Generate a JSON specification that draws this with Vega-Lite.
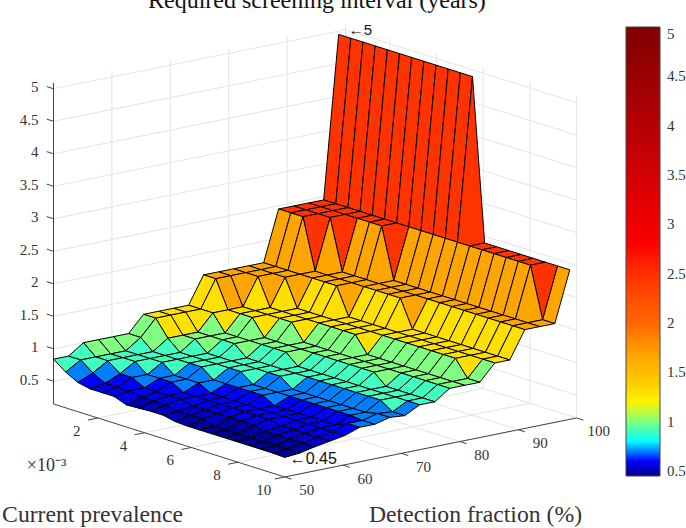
{"$schema":"https://vega.github.io/schema/vega-lite/v6.json","width":686,"height":528,"padding":0,"autosize":{"type":"none"},"background":"white","config":{"view":{"stroke":null},"font":"Liberation Serif"},
"title":{"text":"Required screening interval (years)","font":"Liberation Serif","fontSize":24,"fontWeight":"normal","color":"#111111","anchor":"start","dx":148,"offset":-32,"baseline":"alphabetic"},
"datasets":{
"grid":[
{"id":1900,"z":4.95},{"id":1901,"z":4.95},{"id":1902,"z":4.95},{"id":1903,"z":4.95},{"id":1904,"z":4.95},{"id":1905,"z":4.95},{"id":1906,"z":4.95},{"id":1907,"z":4.95},{"id":1908,"z":4.95},{"id":1909,"z":4.95},{"id":1910,"z":4.95},{"id":1911,"z":4.95},{"id":1912,"z":2.45},{"id":1913,"z":2.45},{"id":1914,"z":2.45},{"id":1915,"z":2.45},{"id":1916,"z":2.45},{"id":1917,"z":2.45},{"id":1918,"z":2.45},{"id":1919,"z":2.45},
{"id":1800,"z":2.45},{"id":1801,"z":2.45},{"id":1802,"z":2.45},{"id":1803,"z":2.45},{"id":1804,"z":2.45},{"id":1805,"z":2.45},{"id":1806,"z":2.45},{"id":1807,"z":2.45},{"id":1808,"z":2.45},{"id":1809,"z":2.45},{"id":1810,"z":2.45},{"id":1811,"z":2.45},{"id":1812,"z":2.45},{"id":1813,"z":2.45},{"id":1814,"z":2.45},{"id":1815,"z":2.45},{"id":1816,"z":2.45},{"id":1817,"z":2.45},{"id":1818,"z":1.67},{"id":1819,"z":1.67},
{"id":1700,"z":2.45},{"id":1701,"z":2.45},{"id":1702,"z":2.45},{"id":1703,"z":2.45},{"id":1704,"z":2.45},{"id":1705,"z":2.45},{"id":1706,"z":2.45},{"id":1707,"z":1.67},{"id":1708,"z":1.67},{"id":1709,"z":1.67},{"id":1710,"z":1.67},{"id":1711,"z":1.67},{"id":1712,"z":1.67},{"id":1713,"z":1.67},{"id":1714,"z":1.67},{"id":1715,"z":1.67},{"id":1716,"z":1.67},{"id":1717,"z":1.67},{"id":1718,"z":1.67},{"id":1719,"z":1.67},
{"id":1600,"z":2.45},{"id":1601,"z":2.45},{"id":1602,"z":2.45},{"id":1603,"z":2.45},{"id":1604,"z":1.67},{"id":1605,"z":1.67},{"id":1606,"z":1.67},{"id":1607,"z":1.67},{"id":1608,"z":1.67},{"id":1609,"z":1.67},{"id":1610,"z":1.67},{"id":1611,"z":1.67},{"id":1612,"z":1.67},{"id":1613,"z":1.67},{"id":1614,"z":1.67},{"id":1615,"z":1.67},{"id":1616,"z":1.67},{"id":1617,"z":1.67},{"id":1618,"z":1.67},{"id":1619,"z":1.67},
{"id":1500,"z":2.45},{"id":1501,"z":2.45},{"id":1502,"z":2.45},{"id":1503,"z":1.67},{"id":1504,"z":1.67},{"id":1505,"z":1.67},{"id":1506,"z":1.67},{"id":1507,"z":1.67},{"id":1508,"z":1.67},{"id":1509,"z":1.67},{"id":1510,"z":1.67},{"id":1511,"z":1.25},{"id":1512,"z":1.25},{"id":1513,"z":1.25},{"id":1514,"z":1.25},{"id":1515,"z":1.25},{"id":1516,"z":1.25},{"id":1517,"z":1.25},{"id":1518,"z":1.25},{"id":1519,"z":1.25},
{"id":1400,"z":1.67},{"id":1401,"z":1.67},{"id":1402,"z":1.67},{"id":1403,"z":1.67},{"id":1404,"z":1.67},{"id":1405,"z":1.67},{"id":1406,"z":1.67},{"id":1407,"z":1.25},{"id":1408,"z":1.25},{"id":1409,"z":1.25},{"id":1410,"z":1.25},{"id":1411,"z":1.25},{"id":1412,"z":1.25},{"id":1413,"z":1.25},{"id":1414,"z":1.25},{"id":1415,"z":1.25},{"id":1416,"z":1.25},{"id":1417,"z":1.25},{"id":1418,"z":1.25},{"id":1419,"z":1.25},
{"id":1300,"z":1.67},{"id":1301,"z":1.67},{"id":1302,"z":1.67},{"id":1303,"z":1.67},{"id":1304,"z":1.25},{"id":1305,"z":1.25},{"id":1306,"z":1.25},{"id":1307,"z":1.25},{"id":1308,"z":1.25},{"id":1309,"z":1.25},{"id":1310,"z":1.25},{"id":1311,"z":1.25},{"id":1312,"z":1.25},{"id":1313,"z":1.25},{"id":1314,"z":1.25},{"id":1315,"z":1.25},{"id":1316,"z":1.25},{"id":1317,"z":1.25},{"id":1318,"z":1},{"id":1319,"z":1},
{"id":1200,"z":1.67},{"id":1201,"z":1.67},{"id":1202,"z":1.67},{"id":1203,"z":1.25},{"id":1204,"z":1.25},{"id":1205,"z":1.25},{"id":1206,"z":1.25},{"id":1207,"z":1.25},{"id":1208,"z":1.25},{"id":1209,"z":1.25},{"id":1210,"z":1.25},{"id":1211,"z":1},{"id":1212,"z":1},{"id":1213,"z":1},{"id":1214,"z":1},{"id":1215,"z":1},{"id":1216,"z":1},{"id":1217,"z":1},{"id":1218,"z":1},{"id":1219,"z":1},
{"id":1100,"z":1.67},{"id":1101,"z":1.67},{"id":1102,"z":1.25},{"id":1103,"z":1.25},{"id":1104,"z":1.25},{"id":1105,"z":1.25},{"id":1106,"z":1.25},{"id":1107,"z":1},{"id":1108,"z":1},{"id":1109,"z":1},{"id":1110,"z":1},{"id":1111,"z":1},{"id":1112,"z":1},{"id":1113,"z":1},{"id":1114,"z":1},{"id":1115,"z":1},{"id":1116,"z":1},{"id":1117,"z":1},{"id":1118,"z":1},{"id":1119,"z":1},
{"id":1000,"z":1.67},{"id":1001,"z":1.67},{"id":1002,"z":1.25},{"id":1003,"z":1.25},{"id":1004,"z":1.25},{"id":1005,"z":1},{"id":1006,"z":1},{"id":1007,"z":1},{"id":1008,"z":1},{"id":1009,"z":1},{"id":1010,"z":1},{"id":1011,"z":1},{"id":1012,"z":1},{"id":1013,"z":1},{"id":1014,"z":1},{"id":1015,"z":0.84},{"id":1016,"z":0.84},{"id":1017,"z":0.84},{"id":1018,"z":0.84},{"id":1019,"z":0.84},
{"id":900,"z":1.25},{"id":901,"z":1.25},{"id":902,"z":1.25},{"id":903,"z":1},{"id":904,"z":1},{"id":905,"z":1},{"id":906,"z":1},{"id":907,"z":1},{"id":908,"z":1},{"id":909,"z":0.84},{"id":910,"z":0.84},{"id":911,"z":0.84},{"id":912,"z":0.84},{"id":913,"z":0.84},{"id":914,"z":0.84},{"id":915,"z":0.84},{"id":916,"z":0.84},{"id":917,"z":0.84},{"id":918,"z":0.84},{"id":919,"z":0.84},
{"id":800,"z":1.25},{"id":801,"z":1.25},{"id":802,"z":1},{"id":803,"z":1},{"id":804,"z":1},{"id":805,"z":1},{"id":806,"z":0.84},{"id":807,"z":0.84},{"id":808,"z":0.84},{"id":809,"z":0.84},{"id":810,"z":0.84},{"id":811,"z":0.84},{"id":812,"z":0.84},{"id":813,"z":0.84},{"id":814,"z":0.84},{"id":815,"z":0.84},{"id":816,"z":0.84},{"id":817,"z":0.84},{"id":818,"z":0.72},{"id":819,"z":0.72},
{"id":700,"z":1.25},{"id":701,"z":1.25},{"id":702,"z":1},{"id":703,"z":1},{"id":704,"z":0.84},{"id":705,"z":0.84},{"id":706,"z":0.84},{"id":707,"z":0.84},{"id":708,"z":0.84},{"id":709,"z":0.84},{"id":710,"z":0.84},{"id":711,"z":0.7},{"id":712,"z":0.7},{"id":713,"z":0.7},{"id":714,"z":0.7},{"id":715,"z":0.7},{"id":716,"z":0.7},{"id":717,"z":0.7},{"id":718,"z":0.74},{"id":719,"z":0.74},
{"id":600,"z":1.25},{"id":601,"z":1.25},{"id":602,"z":1},{"id":603,"z":0.84},{"id":604,"z":0.84},{"id":605,"z":0.84},{"id":606,"z":0.84},{"id":607,"z":0.84},{"id":608,"z":0.84},{"id":609,"z":0.7},{"id":610,"z":0.7},{"id":611,"z":0.7},{"id":612,"z":0.7},{"id":613,"z":0.7},{"id":614,"z":0.7},{"id":615,"z":0.7},{"id":616,"z":0.7},{"id":617,"z":0.7},{"id":618,"z":0.68},{"id":619,"z":0.68},
{"id":500,"z":1},{"id":501,"z":1},{"id":502,"z":0.84},{"id":503,"z":0.84},{"id":504,"z":0.84},{"id":505,"z":0.84},{"id":506,"z":0.84},{"id":507,"z":0.7},{"id":508,"z":0.7},{"id":509,"z":0.7},{"id":510,"z":0.7},{"id":511,"z":0.7},{"id":512,"z":0.6},{"id":513,"z":0.6},{"id":514,"z":0.6},{"id":515,"z":0.6},{"id":516,"z":0.6},{"id":517,"z":0.6},{"id":518,"z":0.68},{"id":519,"z":0.68},
{"id":400,"z":1},{"id":401,"z":0.84},{"id":402,"z":0.84},{"id":403,"z":0.84},{"id":404,"z":0.84},{"id":405,"z":0.7},{"id":406,"z":0.7},{"id":407,"z":0.7},{"id":408,"z":0.6},{"id":409,"z":0.6},{"id":410,"z":0.6},{"id":411,"z":0.6},{"id":412,"z":0.6},{"id":413,"z":0.6},{"id":414,"z":0.6},{"id":415,"z":0.6},{"id":416,"z":0.6},{"id":417,"z":0.6},{"id":418,"z":0.6},{"id":419,"z":0.6},
{"id":300,"z":1},{"id":301,"z":0.84},{"id":302,"z":0.84},{"id":303,"z":0.84},{"id":304,"z":0.7},{"id":305,"z":0.7},{"id":306,"z":0.7},{"id":307,"z":0.6},{"id":308,"z":0.6},{"id":309,"z":0.6},{"id":310,"z":0.6},{"id":311,"z":0.6},{"id":312,"z":0.6},{"id":313,"z":0.6},{"id":314,"z":0.6},{"id":315,"z":0.56},{"id":316,"z":0.56},{"id":317,"z":0.56},{"id":318,"z":0.56},{"id":319,"z":0.56},
{"id":200,"z":1},{"id":201,"z":0.84},{"id":202,"z":0.84},{"id":203,"z":0.7},{"id":204,"z":0.7},{"id":205,"z":0.6},{"id":206,"z":0.6},{"id":207,"z":0.6},{"id":208,"z":0.6},{"id":209,"z":0.56},{"id":210,"z":0.56},{"id":211,"z":0.56},{"id":212,"z":0.56},{"id":213,"z":0.56},{"id":214,"z":0.56},{"id":215,"z":0.52},{"id":216,"z":0.52},{"id":217,"z":0.52},{"id":218,"z":0.52},{"id":219,"z":0.52},
{"id":100,"z":0.84},{"id":101,"z":0.84},{"id":102,"z":0.7},{"id":103,"z":0.6},{"id":104,"z":0.6},{"id":105,"z":0.6},{"id":106,"z":0.56},{"id":107,"z":0.56},{"id":108,"z":0.56},{"id":109,"z":0.52},{"id":110,"z":0.52},{"id":111,"z":0.52},{"id":112,"z":0.47},{"id":113,"z":0.47},{"id":114,"z":0.47},{"id":115,"z":0.47},{"id":116,"z":0.47},{"id":117,"z":0.47},{"id":118,"z":0.47},{"id":119,"z":0.47},
{"id":0,"z":0.84},{"id":1,"z":0.7},{"id":2,"z":0.6},{"id":3,"z":0.56},{"id":4,"z":0.56},{"id":5,"z":0.56},{"id":6,"z":0.49},{"id":7,"z":0.5},{"id":8,"z":0.51},{"id":9,"z":0.51},{"id":10,"z":0.47},{"id":11,"z":0.46},{"id":12,"z":0.46},{"id":13,"z":0.46},{"id":14,"z":0.46},{"id":15,"z":0.46},{"id":16,"z":0.46},{"id":17,"z":0.46},{"id":18,"z":0.46},{"id":19,"z":0.45}
],
"walls":[
{"seg":1,"det":[60,60],"prev":[0.1,0.1],"z":[0.15,5.09]},{"seg":2,"det":[70,70],"prev":[0.1,0.1],"z":[0.15,5.09]},{"seg":3,"det":[80,80],"prev":[0.1,0.1],"z":[0.15,5.09]},{"seg":4,"det":[90,90],"prev":[0.1,0.1],"z":[0.15,5.09]},{"seg":5,"det":[100,100],"prev":[0.1,0.1],"z":[0.15,5.09]},
{"seg":6,"det":[50,100],"prev":[0.1,0.1],"z":[0.5,0.5]},{"seg":7,"det":[50,100],"prev":[0.1,0.1],"z":[1,1]},{"seg":8,"det":[50,100],"prev":[0.1,0.1],"z":[1.5,1.5]},{"seg":9,"det":[50,100],"prev":[0.1,0.1],"z":[2,2]},{"seg":10,"det":[50,100],"prev":[0.1,0.1],"z":[2.5,2.5]},{"seg":11,"det":[50,100],"prev":[0.1,0.1],"z":[3,3]},{"seg":12,"det":[50,100],"prev":[0.1,0.1],"z":[3.5,3.5]},{"seg":13,"det":[50,100],"prev":[0.1,0.1],"z":[4,4]},{"seg":14,"det":[50,100],"prev":[0.1,0.1],"z":[4.5,4.5]},{"seg":15,"det":[50,100],"prev":[0.1,0.1],"z":[5,5]},
{"seg":16,"det":[100,100],"prev":[2,2],"z":[0.15,5.09]},{"seg":17,"det":[100,100],"prev":[4,4],"z":[0.15,5.09]},{"seg":18,"det":[100,100],"prev":[6,6],"z":[0.15,5.09]},{"seg":19,"det":[100,100],"prev":[8,8],"z":[0.15,5.09]},{"seg":20,"det":[100,100],"prev":[10,10],"z":[0.15,5.09]},
{"seg":21,"det":[100,100],"prev":[0.1,10],"z":[0.5,0.5]},{"seg":22,"det":[100,100],"prev":[0.1,10],"z":[1,1]},{"seg":23,"det":[100,100],"prev":[0.1,10],"z":[1.5,1.5]},{"seg":24,"det":[100,100],"prev":[0.1,10],"z":[2,2]},{"seg":25,"det":[100,100],"prev":[0.1,10],"z":[2.5,2.5]},{"seg":26,"det":[100,100],"prev":[0.1,10],"z":[3,3]},{"seg":27,"det":[100,100],"prev":[0.1,10],"z":[3.5,3.5]},{"seg":28,"det":[100,100],"prev":[0.1,10],"z":[4,4]},{"seg":29,"det":[100,100],"prev":[0.1,10],"z":[4.5,4.5]},{"seg":30,"det":[100,100],"prev":[0.1,10],"z":[5,5]},
{"seg":31,"det":[60,60],"prev":[0.1,10],"z":[0.15,0.15]},{"seg":32,"det":[70,70],"prev":[0.1,10],"z":[0.15,0.15]},{"seg":33,"det":[80,80],"prev":[0.1,10],"z":[0.15,0.15]},{"seg":34,"det":[90,90],"prev":[0.1,10],"z":[0.15,0.15]},{"seg":35,"det":[100,100],"prev":[0.1,10],"z":[0.15,0.15]},
{"seg":36,"det":[50,100],"prev":[2,2],"z":[0.15,0.15]},{"seg":37,"det":[50,100],"prev":[4,4],"z":[0.15,0.15]},{"seg":38,"det":[50,100],"prev":[6,6],"z":[0.15,0.15]},{"seg":39,"det":[50,100],"prev":[8,8],"z":[0.15,0.15]},{"seg":40,"det":[50,100],"prev":[10,10],"z":[0.15,0.15]}
],
"axes":[
{"seg":1,"det":[50,50],"prev":[0.1,0.1],"z":[0.15,5.09]},{"seg":2,"det":[50,50],"prev":[0.1,10],"z":[0.15,0.15]},{"seg":3,"det":[50,100],"prev":[10,10],"z":[0.15,0.15]},
{"seg":4,"det":[50,50],"prev":[0.1,-0.19],"z":[0.5,0.5]},{"seg":5,"det":[50,50],"prev":[0.1,-0.19],"z":[1,1]},{"seg":6,"det":[50,50],"prev":[0.1,-0.19],"z":[1.5,1.5]},{"seg":7,"det":[50,50],"prev":[0.1,-0.19],"z":[2,2]},{"seg":8,"det":[50,50],"prev":[0.1,-0.19],"z":[2.5,2.5]},{"seg":9,"det":[50,50],"prev":[0.1,-0.19],"z":[3,3]},{"seg":10,"det":[50,50],"prev":[0.1,-0.19],"z":[3.5,3.5]},{"seg":11,"det":[50,50],"prev":[0.1,-0.19],"z":[4,4]},{"seg":12,"det":[50,50],"prev":[0.1,-0.19],"z":[4.5,4.5]},{"seg":13,"det":[50,50],"prev":[0.1,-0.19],"z":[5,5]},
{"seg":14,"det":[50,48.3],"prev":[2,2],"z":[0.15,0.15]},{"seg":15,"det":[50,48.3],"prev":[4,4],"z":[0.15,0.15]},{"seg":16,"det":[50,48.3],"prev":[6,6],"z":[0.15,0.15]},{"seg":17,"det":[50,48.3],"prev":[8,8],"z":[0.15,0.15]},{"seg":18,"det":[50,48.3],"prev":[10,10],"z":[0.15,0.15]},
{"seg":19,"det":[50,50],"prev":[10,10.29],"z":[0.15,0.15]},{"seg":20,"det":[60,60],"prev":[10,10.29],"z":[0.15,0.15]},{"seg":21,"det":[70,70],"prev":[10,10.29],"z":[0.15,0.15]},{"seg":22,"det":[80,80],"prev":[10,10.29],"z":[0.15,0.15]},{"seg":23,"det":[90,90],"prev":[10,10.29],"z":[0.15,0.15]},{"seg":24,"det":[100,100],"prev":[10,10.29],"z":[0.15,0.15]}
],
"labels":[
{"kind":"z","det":50,"prev":0.1,"z":0.5,"label":"0.5"},{"kind":"z","det":50,"prev":0.1,"z":1,"label":"1"},{"kind":"z","det":50,"prev":0.1,"z":1.5,"label":"1.5"},{"kind":"z","det":50,"prev":0.1,"z":2,"label":"2"},{"kind":"z","det":50,"prev":0.1,"z":2.5,"label":"2.5"},{"kind":"z","det":50,"prev":0.1,"z":3,"label":"3"},{"kind":"z","det":50,"prev":0.1,"z":3.5,"label":"3.5"},{"kind":"z","det":50,"prev":0.1,"z":4,"label":"4"},{"kind":"z","det":50,"prev":0.1,"z":4.5,"label":"4.5"},{"kind":"z","det":50,"prev":0.1,"z":5,"label":"5"},
{"kind":"p","det":50,"prev":2,"z":0.15,"label":"2"},{"kind":"p","det":50,"prev":4,"z":0.15,"label":"4"},{"kind":"p","det":50,"prev":6,"z":0.15,"label":"6"},{"kind":"p","det":50,"prev":8,"z":0.15,"label":"8"},{"kind":"p","det":50,"prev":10,"z":0.15,"label":"10"},
{"kind":"d","det":50,"prev":10,"z":0.15,"label":"50"},{"kind":"d","det":60,"prev":10,"z":0.15,"label":"60"},{"kind":"d","det":70,"prev":10,"z":0.15,"label":"70"},{"kind":"d","det":80,"prev":10,"z":0.15,"label":"80"},{"kind":"d","det":90,"prev":10,"z":0.15,"label":"90"},{"kind":"d","det":100,"prev":10,"z":0.15,"label":"100"},
{"kind":"a1","det":98.83,"prev":0.1,"z":4.95,"label":"←5"},{"kind":"a2","det":50,"prev":10,"z":0.45,"label":"←0.45"},
{"kind":"e","det":50,"prev":2,"z":0.15,"label":"×10⁻³"}
]},
"encoding":{
"x":{"field":"sx","type":"quantitative","scale":{"domain":[0,686],"nice":false,"zero":false},"axis":{"domain":false,"ticks":false,"labels":false,"grid":false,"title":"Detection fraction (%)","titleFont":"Liberation Serif","titleFontSize":23.7,"titleFontWeight":"normal","titleColor":"#333333","titleX":475,"titleY":-7,"titleBaseline":"alphabetic"}},
"y":{"field":"sy","type":"quantitative","scale":{"domain":[528,0],"nice":false,"zero":false},"axis":{"domain":false,"ticks":false,"labels":false,"grid":false,"title":"Current prevalence","titleAngle":0,"titleFont":"Liberation Serif","titleFontSize":23.7,"titleFontWeight":"normal","titleColor":"#333333","titleX":92,"titleY":521,"titleBaseline":"alphabetic","titleAlign":"center"}}
},
"layer":[
{"data":{"name":"walls"},"transform":[{"flatten":["det","prev","z"]},{"calculate":"53.5+5.84*(datum.det-50)+23.35*(datum.prev-0.1)","as":"sx"},{"calculate":"404-1.18*(datum.det-50)+7.37*(datum.prev-0.1)-65*(datum.z-0.15)","as":"sy"}],"mark":{"type":"line","stroke":"#e4e4e4","strokeWidth":1},"encoding":{"detail":{"field":"seg","type":"nominal"}}},
{"data":{"name":"axes"},"transform":[{"flatten":["det","prev","z"]},{"calculate":"53.5+5.84*(datum.det-50)+23.35*(datum.prev-0.1)","as":"sx"},{"calculate":"404-1.18*(datum.det-50)+7.37*(datum.prev-0.1)-65*(datum.z-0.15)","as":"sy"}],"mark":{"type":"line","stroke":"#444444","strokeWidth":1},"encoding":{"detail":{"field":"seg","type":"nominal"}}},
{"data":{"name":"grid"},"transform":[
{"calculate":"floor(datum.id/100)","as":"i"},{"calculate":"datum.id%100","as":"j"},{"filter":"datum.i<19 && datum.j<19"},
{"calculate":"[0,1,2,3,4]","as":"c"},{"flatten":["c"]},
{"calculate":"datum.i+[0,1,1,0,0][datum.c]","as":"vi"},{"calculate":"datum.j+[0,0,1,1,0][datum.c]","as":"vj"},{"calculate":"datum.vi*100+datum.vj","as":"vid"},
{"lookup":"vid","from":{"data":{"name":"grid"},"key":"id","fields":["z"]},"as":["vz"]},
{"calculate":"50+2.57*datum.vi","as":"det"},{"calculate":"0.1+0.521*datum.vj","as":"prev"},
{"calculate":"53.5+5.84*(datum.det-50)+23.35*(datum.prev-0.1)","as":"sx"},{"calculate":"404-1.18*(datum.det-50)+7.37*(datum.prev-0.1)-65*(datum.vz-0.15)","as":"sy"}],
"mark":{"type":"line","stroke":"#000000","strokeWidth":1,"strokeJoin":"round"},
"encoding":{"detail":{"field":"id","type":"nominal"},"order":{"field":"c","type":"quantitative"},
"fill":{"field":"z","type":"quantitative","scale":{"domain":[0.45,0.47,0.52,0.56,0.6,0.66,0.67,0.75,0.76,0.82,0.83,0.9,0.91,1.1,1.11,1.17,1.25,1.67,2,2.45,2.75,5],"range":["#000088","#00009c","#0000c8","#0000e4","#0000ff","#0000ff","#0080ff","#0080ff","#00ffff","#00ffff","#40ffc0","#40ffc0","#80ff80","#80ff80","#ffff00","#ffff00","#ffe000","#ffa500","#ff6600","#ff3300","#ff0000","#7f0000"]},
"legend":{"orient":"none","legendX":626,"legendY":27,"direction":"vertical","title":null,"gradientLength":449,"gradientThickness":34,"gradientStrokeColor":"#444444","gradientStrokeWidth":1,"labelFont":"Liberation Serif","labelFontSize":15,"labelColor":"#333333","labelOffset":7,"labelOverlap":false,"labelBaseline":"middle","format":".2~f","values":[0.5,1,1.5,2,2.5,3,3.5,4,4.5,5]}}}},
{"data":{"name":"labels"},"transform":[{"filter":"datum.kind=='z'"},{"calculate":"53.5+5.84*(datum.det-50)+23.35*(datum.prev-0.1)","as":"sx"},{"calculate":"404-1.18*(datum.det-50)+7.37*(datum.prev-0.1)-65*(datum.z-0.15)","as":"sy"}],"mark":{"type":"text","font":"Liberation Serif","fontSize":15,"color":"#333333","align":"right","baseline":"middle","dx":-15,"dy":-1.5},"encoding":{"text":{"field":"label"}}},
{"data":{"name":"labels"},"transform":[{"filter":"datum.kind=='p'"},{"calculate":"53.5+5.84*(datum.det-50)+23.35*(datum.prev-0.1)","as":"sx"},{"calculate":"404-1.18*(datum.det-50)+7.37*(datum.prev-0.1)-65*(datum.z-0.15)","as":"sy"}],"mark":{"type":"text","font":"Liberation Serif","fontSize":15,"color":"#333333","align":"center","baseline":"middle","dx":-21,"dy":13},"encoding":{"text":{"field":"label"}}},
{"data":{"name":"labels"},"transform":[{"filter":"datum.kind=='d'"},{"calculate":"53.5+5.84*(datum.det-50)+23.35*(datum.prev-0.1)","as":"sx"},{"calculate":"404-1.18*(datum.det-50)+7.37*(datum.prev-0.1)-65*(datum.z-0.15)","as":"sy"}],"mark":{"type":"text","font":"Liberation Serif","fontSize":15,"color":"#333333","align":"center","baseline":"middle","dx":22,"dy":13.5},"encoding":{"text":{"field":"label"}}},
{"data":{"name":"labels"},"transform":[{"filter":"datum.kind=='a1'"},{"calculate":"53.5+5.84*(datum.det-50)+23.35*(datum.prev-0.1)","as":"sx"},{"calculate":"404-1.18*(datum.det-50)+7.37*(datum.prev-0.1)-65*(datum.z-0.15)","as":"sy"}],"mark":{"type":"text","font":"Liberation Sans","fontSize":15,"color":"#111111","align":"left","baseline":"middle","dx":10,"dy":-4},"encoding":{"text":{"field":"label"}}},
{"data":{"name":"labels"},"transform":[{"filter":"datum.kind=='a2'"},{"calculate":"53.5+5.84*(datum.det-50)+23.35*(datum.prev-0.1)","as":"sx"},{"calculate":"404-1.18*(datum.det-50)+7.37*(datum.prev-0.1)-65*(datum.z-0.15)","as":"sy"}],"mark":{"type":"text","font":"Liberation Sans","fontSize":16,"color":"#111111","align":"left","baseline":"middle","dx":5,"dy":2},"encoding":{"text":{"field":"label"}}},
{"data":{"name":"labels"},"transform":[{"filter":"datum.kind=='e'"},{"calculate":"53.5+5.84*(datum.det-50)+23.35*(datum.prev-0.1)","as":"sx"},{"calculate":"404-1.18*(datum.det-50)+7.37*(datum.prev-0.1)-65*(datum.z-0.15)","as":"sy"}],"mark":{"type":"text","font":"Liberation Serif","fontSize":18,"color":"#333333","align":"left","baseline":"middle","dx":-71,"dy":48},"encoding":{"text":{"field":"label"}}}
]}
